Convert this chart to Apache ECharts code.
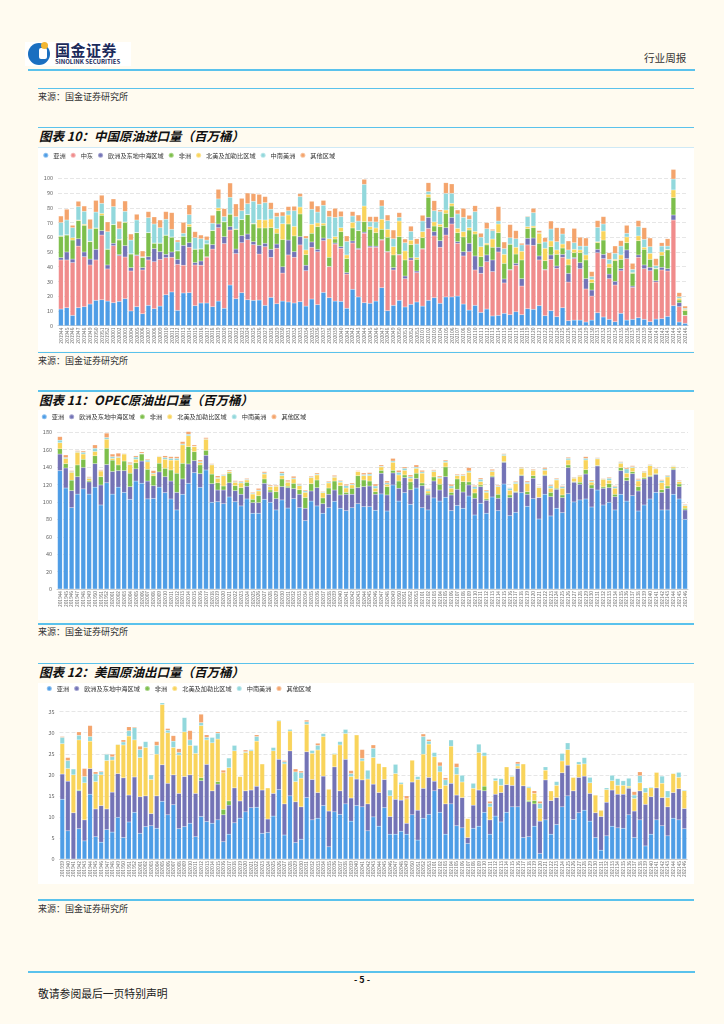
<!DOCTYPE html>
<html><head><meta charset="utf-8">
<script src="https://cdn.jsdelivr.net/npm/echarts@6/dist/echarts.min.js"></script>
<style>
html,body{margin:0;padding:0;}
body{width:724px;height:1024px;background:#fffbf0;position:relative;overflow:hidden;font-family:"Noto Sans CJK SC","Noto Sans",sans-serif;color:#222;}
.abs{position:absolute;}
.line{position:absolute;background:#5ac2ec;}
.src{position:absolute;left:38px;font-size:9px;line-height:10px;color:#333;}
.ttl{position:absolute;left:39px;font-size:12.5px;line-height:14px;font-weight:bold;font-style:italic;color:#111;}
.box{position:absolute;left:38px;width:656px;background:#fff;}
</style></head>
<body>
<!-- header -->
<div class="abs" style="left:25px;top:42px;width:106px;height:24px;background:#fff;"></div>
<div class="abs" style="left:28px;top:43px;width:22px;height:22px;border-radius:50%;background:#1a6fc0;"></div>
<div class="abs" style="left:39px;top:48px;width:8px;height:11px;background:#fff;border-radius:2px;"></div>
<div class="abs" style="left:41px;top:42px;width:7px;height:7px;border-radius:50%;background:#f2b632;"></div>
<div class="abs" style="left:55px;top:42px;font-size:15px;line-height:16px;font-weight:bold;color:#1b2a5a;letter-spacing:0.5px;">国金证券</div>
<div class="abs" style="left:55px;top:58px;font-size:6px;line-height:7px;font-weight:bold;color:#1b2a5a;">SINOLINK SECURITIES</div>
<div class="abs" style="left:644px;top:52px;font-size:10.6px;line-height:12px;color:#333;">行业周报</div>
<div class="line" style="left:28px;top:69px;width:667px;height:2px;"></div>

<div class="line" style="left:38px;top:87.5px;width:656px;height:1.5px;"></div>
<div class="src" style="top:92px;">来源：国金证券研究所</div>

<div class="line" style="left:38px;top:126.5px;width:656px;height:1.5px;"></div>
<div class="ttl" style="top:129px;">图表 10：中国原油进口量（百万桶）</div>
<div class="box" style="top:146.5px;height:203px;border-top:1px solid #cfe9f5;"></div>
<div id="c1" class="abs" style="left:38px;top:147px;width:656px;height:203px;"></div>
<div class="line" style="left:38px;top:351.5px;width:656px;height:1.5px;"></div>
<div class="src" style="top:356px;">来源：国金证券研究所</div>

<div class="line" style="left:38px;top:390px;width:656px;height:1.5px;"></div>
<div class="ttl" style="top:392.5px;">图表 11：OPEC原油出口量（百万桶）</div>
<div class="box" style="top:410px;height:210px;"></div>
<div id="c2" class="abs" style="left:38px;top:410px;width:656px;height:210px;"></div>
<div class="line" style="left:38px;top:623px;width:656px;height:1.5px;"></div>
<div class="src" style="top:627px;">来源：国金证券研究所</div>

<div class="line" style="left:38px;top:662.5px;width:656px;height:1.5px;"></div>
<div class="ttl" style="top:665px;">图表 12：美国原油出口量（百万桶）</div>
<div class="box" style="top:683px;height:201px;"></div>
<div id="c3" class="abs" style="left:38px;top:683px;width:656px;height:201px;"></div>
<div class="line" style="left:38px;top:899px;width:656px;height:1.5px;"></div>
<div class="src" style="top:904px;">来源：国金证券研究所</div>

<div class="line" style="left:28px;top:970.5px;width:667px;height:2px;"></div>
<div class="abs" style="left:342px;top:974px;width:40px;text-align:center;font-size:9px;line-height:11px;font-weight:bold;color:#111;">- 5 -</div>
<div class="abs" style="left:38px;top:986.5px;font-size:10.8px;line-height:12px;color:#222;">敬请参阅最后一页特别声明</div>

<script>
function weeks(year, from, to){ var a=[]; for(var w=from; w<=to; w++){ a.push(year + (w<10?'0':'') + w); } return a; }
var catsImp = [].concat(weeks(2019,44,52), weeks(2020,1,53), weeks(2021,1,46));
var catsOpec = catsImp.slice();
var catsUs = [].concat(weeks(2019,39,52), weeks(2020,1,53), weeks(2021,1,46));

var namesImp = ['亚洲','中东','欧洲及东地中海区域','非洲','北美及加勒比区域','中南美洲','其他区域'];
var colorsImp = ['#4e9de6','#f08c8c','#7373b6','#7dbf4b','#f9d45b','#92d8dc','#f4a46c'];
var namesExp = ['亚洲','欧洲及东地中海区域','非洲','北美及加勒比区域','中南美洲','其他区域'];
var colorsExp = ['#4e9de6','#7373b6','#7dbf4b','#f9d45b','#92d8dc','#f4a46c'];

/* 图表10 中国原油进口量 */
var impAsia = [11.3,12.2,7.0,12.2,12.9,14.7,17.2,17.6,16.7,15.6,16.5,18.3,10.0,12.9,8.1,13.8,11.5,13.3,21.0,22.9,10.4,22.2,22.4,13.6,15.4,15.4,12.9,16.7,11.8,27.6,18.3,22.4,17.6,17.2,17.4,13.8,19.2,14.9,16.7,16.1,15.4,16.3,13.3,18.1,14.3,22.6,19.0,16.7,16.5,11.8,24.7,19.5,15.6,15.2,16.7,25.8,10.2,13.8,17.2,12.7,14.5,16.1,13.3,17.2,19.0,15.2,19.5,19.5,20.1,14.7,10.6,13.8,9.0,11.3,6.6,7.0,8.4,7.5,9.5,7.5,11.5,11.1,13.6,6.8,10.2,6.1,12.2,3.4,3.8,3.8,2.5,3.8,8.8,5.9,4.3,2.7,8.4,3.8,4.3,5.4,4.3,2.7,4.5,4.8,6.3,13.6,2.5,1.6];
var impMidEast = [33.3,32.4,35.8,41.8,33.9,26.5,27.4,43.9,21.8,38.7,31.0,28.3,27.1,34.6,29.7,30.8,31.9,31.7,25.2,23.5,31.2,18.8,30.8,27.6,25.6,31.1,39.1,49.8,43.9,37.3,30.6,33.9,40.8,37.8,31.2,39.8,27.2,37.6,19.0,31.9,31.0,38.5,24.0,35.1,35.9,35.1,21.0,38.7,36.0,23.2,31.4,32.3,47.1,38.0,36.5,32.3,39.8,24.0,30.8,19.2,30.0,19.9,38.7,48.8,41.9,38.0,42.0,49.5,35.8,32.6,39.6,24.0,26.5,32.1,30.1,43.0,20.6,30.3,31.5,19.4,43.3,43.4,31.0,31.0,34.8,32.8,34.2,26.2,41.7,34.9,22.4,16.3,40.7,39.6,27.6,24.9,28.9,41.7,21.7,41.0,34.4,34.6,25.1,33.0,30.8,58.1,10.4,5.2];
var impEurope = [1.6,5.4,2.4,5.0,3.2,4.0,7.2,3.0,2.7,1.6,0.7,7.7,2.3,0.5,1.6,2.2,8.9,5.2,2.2,3.6,3.4,13.5,3.1,1.6,2.9,0.3,3.0,2.5,4.7,2.3,3.1,4.8,3.8,2.0,5.9,2.3,5.4,2.9,4.3,10.1,3.8,5.6,3.7,3.6,1.6,1.8,0.2,0.7,1.1,1.0,1.4,0.7,0.8,0.8,0.8,0.4,0.4,1.6,0.4,1.8,1.5,1.1,0.3,7.5,2.9,4.5,5.0,4.5,1.1,2.9,5.7,9.5,4.5,4.6,7.9,3.2,2.7,0.4,1.3,5.0,4.5,5.0,2.7,0.4,3.0,1.6,2.0,5.9,0.7,4.1,7.0,4.1,2.3,2.9,3.1,2.5,1.4,5.9,0.9,1.6,2.5,2.3,0.9,1.8,1.6,3.4,2.7,0.2];
var impAfrica = [14.4,11.5,12.9,12.3,18.1,11.8,14.2,10.4,10.6,12.7,9.9,15.7,9.2,15.1,6.8,16.3,3.6,5.7,12.9,10.0,5.7,6.1,10.9,9.0,8.1,8.6,9.5,9.0,10.0,8.4,13.2,10.8,13.1,12.0,11.8,10.4,14.7,7.3,18.4,10.9,10.7,15.4,7.2,5.9,15.4,8.6,6.2,2.7,10.2,9.5,8.8,12.0,7.1,11.4,9.1,6.9,9.6,8.6,12.0,10.9,9.0,7.9,7.4,13.6,3.8,9.5,9.7,7.7,6.1,10.0,9.0,14.9,6.8,6.8,8.6,9.9,10.6,17.0,6.3,12.7,6.5,7.0,8.6,5.9,5.6,7.9,4.3,5.7,3.3,6.7,12.7,5.0,4.5,9.7,4.4,14.0,6.3,4.9,8.6,9.7,10.6,5.4,8.0,8.1,12.7,11.8,1.8,3.2];
var impNorthAm = [0.4,0.2,1.6,0.4,0.7,0.3,0.3,1.3,0.2,0.2,0.5,0.4,0.2,0.2,0.2,0.2,0.2,0.2,0.2,0.2,0.2,0.2,1.6,0.2,0.2,0.2,0.2,1.9,0.2,0.2,0.4,0.2,0.2,0.4,5.6,5.4,5.9,3.1,10.8,6.1,6.5,4.7,3.2,6.1,2.5,1.4,12.6,1.6,2.7,2.5,3.8,0.2,10.6,1.8,3.2,6.8,5.4,5.6,10.6,6.1,3.0,1.2,4.1,2.0,2.8,1.6,2.3,1.8,2.9,3.6,1.6,1.8,6.8,1.1,5.6,5.9,6.1,0.2,4.6,5.9,1.4,1.1,6.8,8.4,3.9,3.0,2.7,4.0,2.3,1.9,3.4,2.2,0.7,6.1,2.5,0.9,3.0,3.9,0.5,3.2,1.4,4.1,0.4,2.3,0.4,5.2,1.2,0.9];
var impSouthAm = [9.0,10.0,6.8,9.1,8.8,8.3,10.8,6.8,11.8,12.0,7.2,7.2,9.3,8.4,0.4,10.0,12.9,10.4,10.7,5.2,5.9,1.9,6.5,7.7,6.8,2.5,4.8,6.1,3.4,11.3,8.4,5.9,7.3,15.0,10.5,11.8,6.6,8.2,5.2,2.9,10.6,7.1,7.9,10.2,7.4,12.2,15.0,13.1,7.5,9.2,4.3,6.3,14.7,3.4,4.1,9.0,5.9,5.4,2.5,5.6,6.0,9.2,7.2,1.9,7.6,8.6,11.3,6.8,9.8,9.7,5.7,13.4,6.4,9.9,5.7,2.0,3.9,4.3,5.8,4.3,6.8,9.1,0.4,4.3,8.1,5.6,6.8,6.2,4.5,2.6,6.0,1.9,9.7,4.8,3.1,4.1,6.0,2.5,2.2,6.3,5.4,4.5,1.8,4.0,2.2,7.4,1.1,0.7];
var impOther = [4.4,7.3,1.6,3.6,3.6,6.6,7.9,5.5,6.6,5.2,5.0,7.0,4.1,3.9,3.9,4.1,4.8,5.2,5.2,11.3,1.3,7.4,6.6,4.1,2.5,2.5,5.4,6.5,5.4,9.7,8.6,8.4,7.2,5.2,6.7,4.1,4.5,2.7,2.7,2.8,3.0,2.0,1.6,5.4,4.1,3.3,4.0,6.1,3.6,3.7,3.0,4.1,3.4,3.4,3.6,4.1,3.8,5.9,3.2,2.5,3.5,3.6,3.9,6.0,6.8,1.1,7.2,6.4,2.7,6.1,2.7,4.0,2.7,4.1,0.9,9.8,4.5,8.9,5.5,1.1,0.4,2.9,1.4,2.9,5.4,9.5,4.1,6.1,9.7,6.0,5.5,3.4,4.6,5.0,4.5,5.0,3.7,5.4,4.1,4.1,7.9,5.9,4.8,2.3,5.0,6.5,2.7,1.5];

/* 图表11 OPEC原油出口量 */
var opecAsia = [136,116,93.5,109,115,109,117,96.5,122,109,117,111,103,124,121.5,103.5,104,117,110.7,103.4,90.8,108.8,121.4,133.7,116.8,136.7,99.6,100.3,98,105.7,100.3,95.4,103.4,87,87,103,99.6,90.8,102.3,93,103.8,93.4,78.5,101,95.4,87,93.4,100.7,92.7,90,93.4,98,94.6,94.6,90.4,109.2,89.6,119.5,101,110.7,97.3,116,93.4,90.8,104.6,101,105.3,90,96,92.7,106.8,85,98.4,87,105.7,90,120.6,84.3,88,110.7,95,103.8,80.4,108.8,83.9,92.7,87.7,109.5,100,102.3,103.4,94.2,113.7,96.5,99.6,90.8,108.8,101,107.2,89.6,96.5,103.4,111,90.8,90.8,108.8,103.4,80];
var opecEurope = [19,23,19.5,20,24.5,14,27,23,21,26,19,25,14.5,14,25.5,20.5,14.7,17.5,18.3,20.6,20.2,17.6,22.2,13.8,15.7,16.9,21.4,13.4,15.7,16.3,12.7,13.4,14.6,12.2,12.2,18.4,11.8,13,15.3,23.4,11.5,15.4,14.2,11.6,21,11,15.4,13,15.3,18.8,15.4,18.4,23,23.7,18.4,23.7,18.4,13.8,14.7,17.3,16.7,11,25.3,17.2,19.5,12.7,23.7,18,18.5,18.7,12.7,19.2,19.2,14.9,23,14.2,24.9,20.7,23,19.5,13.8,23.4,24.6,21.4,22.1,21.8,17.3,29.9,22.6,18,28.7,21.5,27.6,19.2,16.8,15.2,27.2,23.5,25.3,23,29.9,25.6,20.7,20.2,24.9,28.3,14.2,10.8];
var opecAfrica = [6,5,12,13.5,9.5,1.5,9,9.5,18.6,13,6.5,11,15.5,7,8,13.5,11.3,10,9.6,12.7,22,18,19.9,10.3,10,5.7,11,8.3,4.6,11,5.7,7.6,4.6,3.8,8,5,2.3,8,8.8,1.6,6.1,5.2,12.3,8.4,8.8,6.6,7.2,10.3,10.7,2.2,6.9,13.8,7.6,5.7,3,3.4,9.6,3,8.3,3,9,6,3.1,2,4.6,6.6,11.2,3,11.9,11.9,3.5,6.1,1.9,1.5,1.1,4.6,0.8,3,0.8,0.8,3,3,0.3,0.8,5,1.2,3,3.1,0.7,2.3,5,3.8,0.7,1.5,4.6,2.8,3.4,3.5,2.3,5,1.6,1.2,0.8,3,2.6,1.5,3,1.9];
var opecNorthAm = [7,6,9,14.5,6,2.5,5,6.5,10.4,2,8.5,8,10,4,0.5,8.5,2,7.5,10.4,11.3,15,21.1,12.5,5.7,2.5,12.7,10.5,5,11.7,1.8,3.8,5.4,2.6,6,5.4,5.6,3.9,6.2,3.8,4.6,5,4.7,6,7,5.8,6.1,5.8,4.3,3.9,5,3.8,4.6,5,6.2,3.9,3.9,2.7,9.2,7,5.3,4.2,5.6,11.2,2.6,6.1,6.9,5.3,4.7,3.8,6.9,11,4.7,3.8,7.6,5,8.8,6.9,5.4,9.2,7.6,9.2,6.1,11.1,5.3,4.7,9.5,7.7,5.7,3.9,6.9,11.1,3.1,7.4,8.8,3.9,6.9,5,5,4.6,6.5,6,11.5,5.4,8.2,10.4,2,2.7,3];
var opecSouthAm = [3,1,1,1,2,1,3.6,0.5,2,2,1,0.5,1,2.5,0.5,2,1,0.5,2,2,2,1.1,1.7,0.5,1.3,0.5,0.7,1,1,0.7,0.8,1.2,0.8,1,1.1,1.3,0.7,0.5,2.8,0.7,1.1,1.3,1.6,0.8,1,0.8,1.2,0.9,1.4,2.7,1,0.4,1.2,1.8,2.6,0.8,1.7,1.5,3,2.3,1.8,1.4,1.5,1.9,1.2,1.3,1.5,2.6,0.8,0.8,1.6,2.6,2.7,1.5,1.2,0.9,1.5,2.3,1.6,0.8,1.6,0.7,0.6,1.6,2.6,1,1.9,1.9,0.8,0.7,1.8,1.4,0.8,0.6,2.3,1.9,1.1,4.9,1.1,1.5,0.8,0.8,0.7,2.3,1.5,0.6,0.7,0.8];
var opecOther = [4,3,1,1,1.5,1,3.9,1,5,3,4,0.5,1.5,1.5,1.5,1,3,0.5,2,2,2,2.7,3.1,1.5,1.9,1.4,0.8,2,0.7,1.2,1.2,1,1,1,1.9,1.5,1.2,1,1.8,1.7,2,1,1.1,1,1.3,0.7,1,1.4,0.9,1.6,1.3,0.8,1.9,1.7,2.3,1.5,2.1,3,2.3,1.6,2,2.5,1.8,0.8,1,1.3,1.2,2,1,1,3.8,1.4,1.5,1.2,1.5,1,0.8,0.7,1.1,0.8,1.4,0.9,0.6,1.5,1.2,1,1.1,1.2,0.7,0.8,2,1.2,0.7,0.6,1.1,1.1,0.8,1.5,1.2,1.2,0.8,0.7,0.8,1.1,0.8,0.5,0.9,0.8];

/* 图表12 美国原油出口量 */
var usAsia = [14.2,6.7,0,7.2,4.3,15.4,5.3,4.0,7.0,6.4,9.9,5.1,8.8,11.1,6.1,7.7,7.9,7.3,13.7,10.5,12.9,7.2,7.7,8.5,5.3,10.1,8.9,8.5,9.3,4.1,5.9,8.6,9.7,11.2,12.2,12.3,6.1,6.3,10.2,16.5,5.7,15.0,3.9,4.7,14.6,9.3,9.7,12.7,2.9,11.2,10.6,13.1,9.0,12.7,12.4,6.7,10.0,7.8,12.2,5.9,5.9,6.6,5.9,10.5,4.5,9.7,10.6,16.2,11.1,5.9,13.1,7.9,7.4,3.7,7.3,7.8,11.1,5.9,10.2,8.8,11.1,12.4,12.4,5.1,5.3,7.8,1.3,9.3,5.9,8.2,12.4,15.0,9.4,11.0,11.6,9.0,5.1,2.1,5.5,7.8,7.4,7.3,10.5,5.1,9.3,3.1,5.9,9.3,7.9,5.5,9.7,9.3,7.2];
var usEurope = [6.0,11.8,11.0,9.0,5.0,6.1,6.6,8.7,4.9,9.5,10.4,14.2,6.4,8.4,8.7,7.3,2.9,7.7,8.7,7.5,7.1,8.4,11.9,11.5,10.3,8.5,13.6,7.7,8.5,6.4,6.9,8.3,4.1,5.0,4.2,5.0,10.3,3.2,5.4,7.2,7.4,10.7,9.7,7.7,10.9,9.6,6.1,7.0,8.5,10.7,5.6,10.6,5.5,6.3,6.4,6.4,7.8,8.0,6.7,4.2,8.3,7.4,2.6,7.8,7.1,7.1,8.8,2.3,5.6,7.2,4.9,7.3,7.2,1.4,5.5,8.6,5.1,3.4,5.2,7.0,6.6,5.1,9.1,12.3,8.3,5.3,7.7,9.5,8.0,6.4,8.1,7.3,6.8,8.4,8.1,6.6,5.9,8.0,8.0,8.6,8.0,8.1,6.3,6.3,6.9,9.9,8.9,7.6,6.7,6.9,6.1,7.4,4.8];
var usAfrica = [0,0,0,0.2,0,0,0,0,0,0,0,0,0,0,0,0,0,0,0,0,0,0,0,0,0,0.7,0,0,0.6,1.3,1.0,0,0,0,0,0,0,0,0,0,0,0,0,0,0,0,0,0,0,0,0,0,0,0,0,0,0,0,0,0,0,0,0,0,0,0,0,0,0,0,0,0,0,0,0,0,1.1,0,0,0,0,0,0,0,0.3,0.8,0,0,0,0,0,0,0,0,0,0,0,0,0,0,0,0,0.2,0,0,0,0,0,0,0,0,0,0];
var usNorthAm = [7.2,3.0,9.0,11.9,8.8,6.5,6.5,7.3,11.5,7.6,6.9,7.8,14.0,8.8,9.3,11.5,8.1,9.9,14.3,12.0,6.5,9.1,10.6,7.0,9.5,12.4,5.8,11.4,10.1,8.7,7.9,8.8,5.8,9.1,9.3,10.7,6.2,7.4,10.1,9.1,9.5,4.7,4.8,6.8,6.5,6.2,10.1,9.4,5.2,3.0,10.9,6.1,5.1,10.5,4.5,5.9,6.3,6.9,3.0,4.9,6.1,3.8,5.8,5.2,7.3,8.1,7.9,5.8,4.0,4.4,8.8,4.9,3.7,4.5,4.0,8.9,7.2,3.1,3.2,1.7,4.2,2.1,0.6,5.2,3.0,1.7,3.0,2.3,2.3,2.9,2.8,3.7,3.2,3.1,2.9,2.5,4.2,1.5,3.0,2.2,2.1,2.1,0.3,3.0,1.9,2.8,2.1,3.7,3.4,2.2,4.5,2.7,4.2];
var usSouthAm = [1.5,1.9,1.4,1.1,1.5,1.1,1.8,0.7,1.5,0.8,0.1,0.7,1.3,2.9,1.9,1.4,1.1,2.1,0.4,0.6,1.5,0.6,3.4,1.3,1.9,0.7,0.6,1.3,1.4,0,2.3,1.3,0,0.2,0.3,1.1,0,0,0.8,0.2,0.5,0.4,2.3,1.3,0.6,0.7,1.1,0.7,0,0.2,0.8,1.0,0.7,0,0.6,2.1,2.2,0,0,1.4,2.2,0.4,0,0,0.7,4.2,0.7,1.0,1.4,1.3,1.5,1.7,1.6,0,1.2,2.0,0.8,0.8,0.6,1.6,0,0.2,0.5,0,0.3,0,1.2,0.8,0,0.9,1.8,1.6,0,0.6,1.5,1.3,0,0,0.4,1.3,1.6,1.1,1.9,0.8,1.7,1.1,0.2,0,1.7,1.6,0.1,1.2,0.2];
var usOther = [0.2,0.7,0,0.8,1.9,2.6,0.5,0.2,0.1,0.6,0,0.5,0.9,0.2,0.8,0,0,0.9,0,0.4,1.3,0.9,0,2.2,0,2.0,0.6,0,0.3,0.6,0,0,0,0.4,0,0.4,0,0,0,0,0.3,0,0.7,0.4,0.4,0,0.5,0,0,0,0,0,0.7,0,2.1,0,0.8,0,0,0,0,0,0.7,0,0,0.6,0.4,0,0.9,0.5,0,0.9,0,0,0,0,0,0.5,0,0,0,0,0.5,0,0,0.6,0.5,0,0,0,0,0,0,0,0,0,0,0,0,0,0,0,0,0.8,0.9,0,0,0,0,0,0,0,0];

var yTicksImp = {min:0, max:100, interval:10};
var yTicksOpec = {min:0, max:180, interval:20};
var yTicksUs = {min:0, max:35, interval:5};

function build(id, cats, names, colors, data, yt, grid, legendPos){
  var chart = echarts.init(document.getElementById(id), null, {renderer:'canvas'});
  chart.setOption({
    animation:false,
    textStyle:{fontFamily:'"Noto Sans CJK SC","Noto Sans",sans-serif'},
    legend:{left:legendPos.left, top:legendPos.top, padding:0, icon:'circle', itemWidth:5, itemHeight:5, itemGap:4,
      textStyle:{fontSize:6.2, color:'#333'}, data:names},
    grid:grid,
    xAxis:{type:'category', data:cats, axisLine:{lineStyle:{color:'#cccccc'}}, axisTick:{show:false},
      axisLabel:{rotate:90, interval:0, fontSize:4.8, color:'#777', margin:2}},
    yAxis:{type:'value', min:yt.min, max:yt.max, interval:yt.interval,
      axisLine:{show:false}, axisTick:{show:false},
      axisLabel:{fontSize:5.5, color:'#666', margin:5},
      splitLine:{lineStyle:{type:'dashed', color:'#e6e6e6'}}},
    series:names.map(function(n,i){ return {name:n, type:'bar', stack:'total', data:data[i], barCategoryGap:'20%', clip:false,
      itemStyle:{color:colors[i], borderColor:'rgba(255,255,255,0.35)', borderWidth:0.3}}; })
  });
}

build('c1', catsImp, namesImp, colorsImp, [impAsia,impMidEast,impEurope,impAfrica,impNorthAm,impSouthAm,impOther], yTicksImp,
  {left:20, right:6, top:31.3, bottom:24.3}, {left:4.3, top:4.7});
build('c2', catsOpec, namesExp, colorsExp, [opecAsia,opecEurope,opecAfrica,opecNorthAm,opecSouthAm,opecOther], yTicksOpec,
  {left:19, right:6, top:22.3, bottom:31}, {left:2.8, top:3.3});
build('c3', catsUs, namesExp, colorsExp, [usAsia,usEurope,usAfrica,usNorthAm,usSouthAm,usOther], yTicksUs,
  {left:21.5, right:6.9, top:28.7, bottom:25}, {left:7.8, top:2});
</script>
</body></html>
